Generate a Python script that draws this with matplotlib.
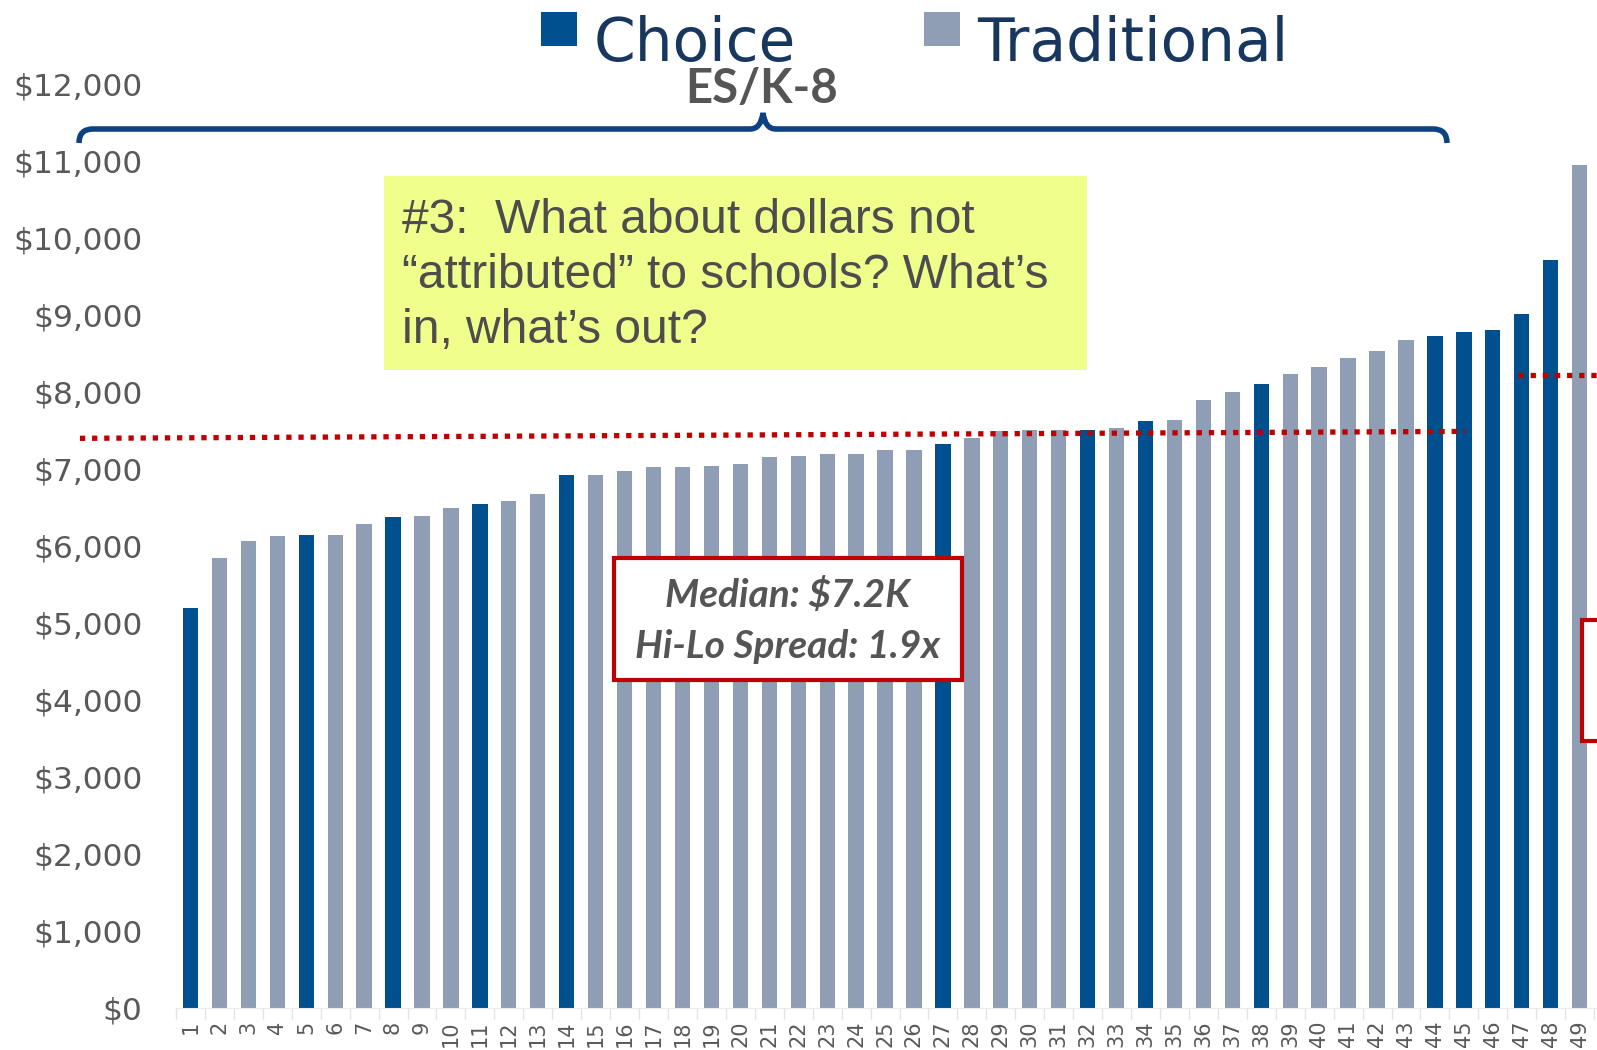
import matplotlib
matplotlib.use('Agg')
import matplotlib.pyplot as plt
from matplotlib.patches import Rectangle, PathPatch
from matplotlib.path import Path
from matplotlib.transforms import Affine2D

# per-pupil spending by school, sorted low to high
school_ids = list(range(1, 50))
spending = [5190, 5840, 6070, 6130, 6150, 6150, 6290, 6380, 6390, 6490,
            6550, 6580, 6680, 6930, 6930, 6980, 7030, 7030, 7040, 7070,
            7160, 7170, 7200, 7200, 7250, 7250, 7330, 7400, 7490, 7510,
            7510, 7510, 7540, 7620, 7640, 7900, 8000, 8110, 8230, 8320,
            8440, 8540, 8680, 8730, 8780, 8810, 9020, 9710, 10950]
choice_ids = [1, 5, 8, 11, 14, 27, 32, 34, 38, 44, 45, 46, 47, 48]
y_ticks = list(range(0, 12001, 1000))

# dotted reference lines (x in school index units, y in dollars)
es_median_x = [-2.82, 45.04]
es_median_y = [7400, 7490]
hs_median_x = [46.87, 51.0]
hs_median_y = [8220, 8220]

CHOICE = '#004f8f'
TRAD = '#8f9eb5'
RED = '#c00000'
GRAY = '#595959'

W, H = 1597, 1050
fig = plt.figure(figsize=(W / 100, H / 100), dpi=100)
ax = fig.add_axes([176 / W, 42 / H, 1 - 176 / W, 923.8 / H])
px = Affine2D().scale(1 / W, -1 / H).translate(0, 1) + fig.transFigure

colors = [CHOICE if s in choice_ids else TRAD for s in school_ids]
ax.bar(school_ids, spending, width=0.53, color=colors, zorder=2)

ax.set_xlim(0.5, 49.6)
ax.set_ylim(0, 12000)
ax.set_xticks(school_ids)
ax.set_xticklabels([str(s) for s in school_ids], rotation=90, fontsize=15, color=GRAY)
ax.set_xticks([s + 0.5 for s in [0] + school_ids], minor=True)
ax.tick_params(axis='x', which='major', length=0, pad=9)
ax.tick_params(axis='x', which='minor', length=8, color='#e3e3e3', width=1)
ax.set_yticks(y_ticks)
ax.set_yticklabels(['${:,}'.format(v) for v in y_ticks], fontsize=22.5, color=GRAY)
ax.tick_params(axis='y', length=0, pad=24)
for side in ['top', 'right', 'left']:
    ax.spines[side].set_visible(False)
ax.spines['bottom'].set_color('#ececec')

# dotted median lines
ax.plot(es_median_x, es_median_y, color=RED, lw=3.8, ls=(0, (1, 1.3)),
        clip_on=False, zorder=4)
ax.plot(hs_median_x, hs_median_y, color=RED, lw=3.8, ls=(0, (1, 1.3)),
        clip_on=False, zorder=4)

# legend, drawn by hand
for x0, col, label in [(541, CHOICE, 'Choice'), (924, TRAD, 'Traditional')]:
    ax.add_patch(Rectangle((x0, 12), 36, 34, transform=px, fc=col, ec='none',
                           clip_on=False))
    ax.text(x0 + 53, 61, label, transform=px, ha='left', va='baseline',
            fontsize=43, color='#17375e')

# ES/K-8 brace
verts = [(79, 143), (79, 129), (93, 129), (750, 129), (761, 129), (763, 113),
         (765, 129), (776, 129), (1433, 129), (1447, 129), (1447, 143)]
codes = [Path.MOVETO, Path.CURVE3, Path.CURVE3, Path.LINETO, Path.CURVE3,
         Path.CURVE3, Path.CURVE3, Path.CURVE3, Path.LINETO, Path.CURVE3, Path.CURVE3]
ax.add_patch(PathPatch(Path(verts, codes), fill=False, ec='#0d4282', lw=4,
                       transform=px, clip_on=False, zorder=5))
ax.text(762, 103, 'ES/K-8', transform=px, ha='center', va='baseline',
        fontsize=34, fontweight='bold', color='#555555', family='Lato')

# yellow question box
ax.add_patch(Rectangle((384, 176), 703, 194, transform=px, fc='#f0ff8c',
                       ec='none', clip_on=False, zorder=5))
q_lines = ['#3:  What about dollars not',
           '\u201cattributed\u201d to schools? What\u2019s',
           'in, what\u2019s out?']
for i, line in enumerate(q_lines):
    ax.text(402, 233 + 55 * i, line, transform=px, ha='left', va='baseline',
            fontsize=34.5, color='#4d4d4d', family='Liberation Sans', zorder=6)

# median box
ax.add_patch(Rectangle((614, 558), 348, 122, transform=px, fc='white',
                       ec=RED, lw=3, clip_on=False, zorder=5))
ax.text(788, 607, 'Median: $7.2K', transform=px, ha='center', va='baseline',
        fontsize=28, fontweight='bold', fontstyle='italic', color='#555555',
        family='Lato', zorder=6)
ax.text(788, 658, 'Hi-Lo Spread: 1.9x', transform=px, ha='center', va='baseline',
        fontsize=28, fontweight='bold', fontstyle='italic', color='#555555',
        family='Lato', zorder=6)

# cut-off box at right edge
ax.add_patch(Rectangle((1582, 620), 80, 121, transform=px, fc='white',
                       ec=RED, lw=3, clip_on=False, zorder=5))

fig.savefig('out.png', dpi=100)
